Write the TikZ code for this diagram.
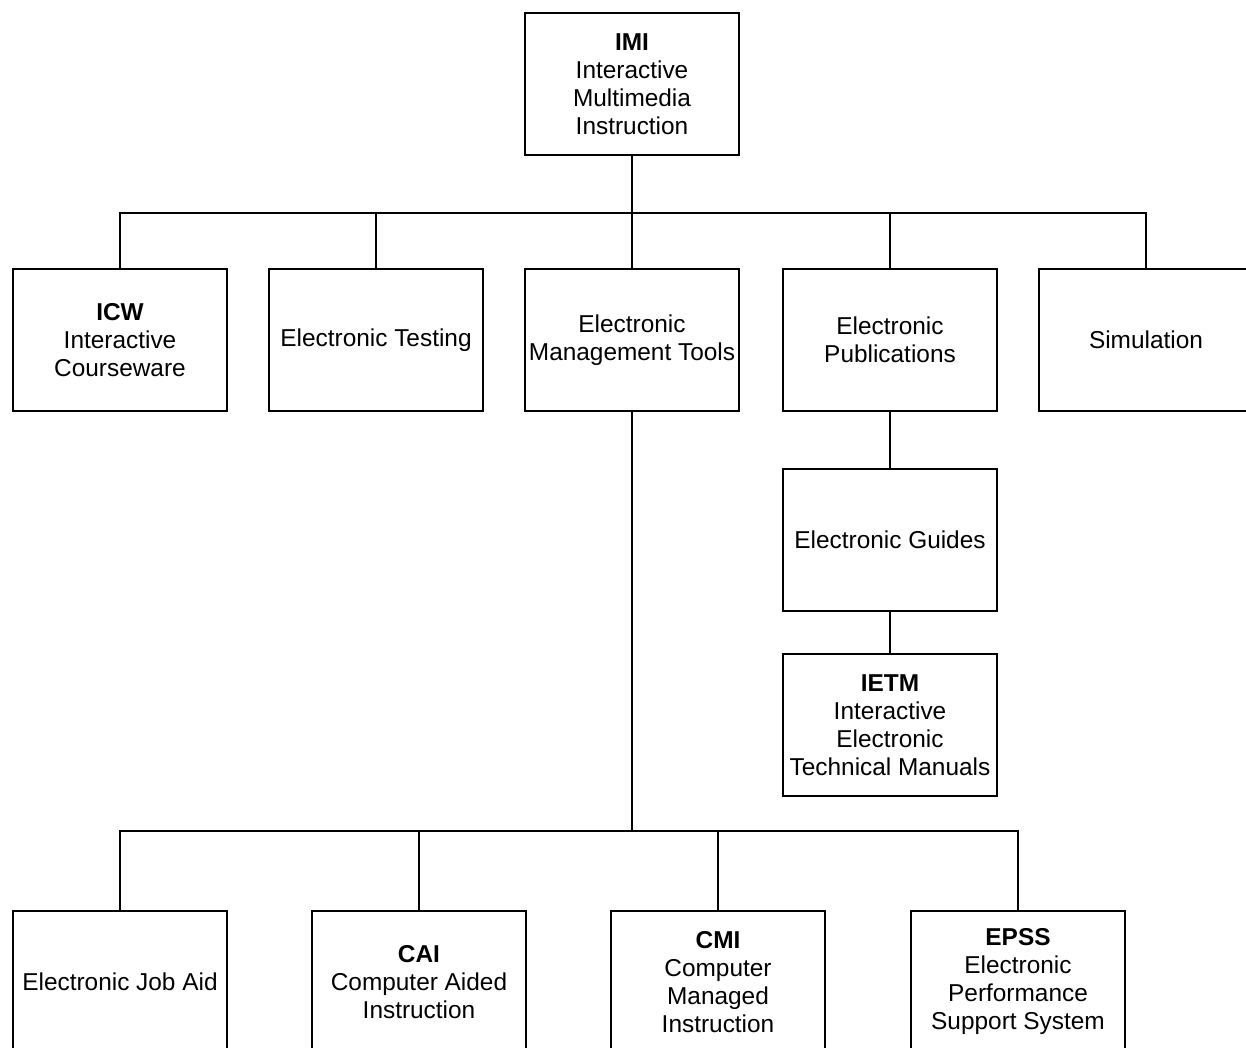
\documentclass[tikz,border=0pt]{standalone}
\usepackage{fontspec}
\setmainfont{Liberation Sans}
\begin{document}
\begin{tikzpicture}[x=1pt,y=-1pt,
  box/.style={draw=black, line width=1.8pt, rectangle, minimum width=214pt, minimum height=142pt,
    inner sep=0pt, align=center, font=\fontsize{24.4}{28}\selectfont},
  conn/.style={draw=black, line width=1.8pt}]
\useasboundingbox (0,0) rectangle (1246,1048);
\fill[white] (0,0) rectangle (1246,1048);
\clip (0,0) rectangle (1246,1048);
% top
\node[box] (imi) at (632,84) {\textbf{IMI}\\Interactive\\Multimedia\\Instruction};
% row 1
\node[box] (icw) at (120,340) {\textbf{ICW}\\Interactive\\Courseware};
\node[box] (etest) at (376,340) {Electronic Testing};
\node[box] (emt) at (632,340) {Electronic\\Management Tools};
\node[box] (epub) at (890,340) {Electronic\\Publications};
\node[box] (sim) at (1146,340) {Simulation};
% right column
\node[box] (eguide) at (890,540) {Electronic Guides};
\node[box] (ietm) at (890,725) {\textbf{IETM}\\Interactive\\Electronic\\Technical Manuals};
% bottom row
\node[box] (ejob) at (120,982) {Electronic Job Aid};
\node[box] (cai) at (419,982) {\textbf{CAI}\\Computer Aided\\Instruction};
\node[box] (cmi) at (718,982) {\textbf{CMI}\\Computer\\Managed\\Instruction};
\node[box] (epss) at (1018,982) {\textbf{EPSS}\\Electronic\\Performance\\Support System};
% buses
\coordinate (bus1) at (632,213);
\coordinate (bus2) at (632,831);
% connectors top
\draw[conn] (imi.south) -- (bus1);
\draw[conn] (icw.north) |- (sim.north |- bus1) -- (sim.north);
\draw[conn] (etest.north) -- (etest.north |- bus1);
\draw[conn] (emt.north) -- (emt.north |- bus1);
\draw[conn] (epub.north) -- (epub.north |- bus1);
% right column
\draw[conn] (epub.south) -- (eguide.north);
\draw[conn] (eguide.south) -- (ietm.north);
% bottom
\draw[conn] (emt.south) -- (bus2);
\draw[conn] (ejob.north) |- (epss.north |- bus2) -- (epss.north);
\draw[conn] (cai.north) -- (cai.north |- bus2);
\draw[conn] (cmi.north) -- (cmi.north |- bus2);
\end{tikzpicture}
\end{document}
